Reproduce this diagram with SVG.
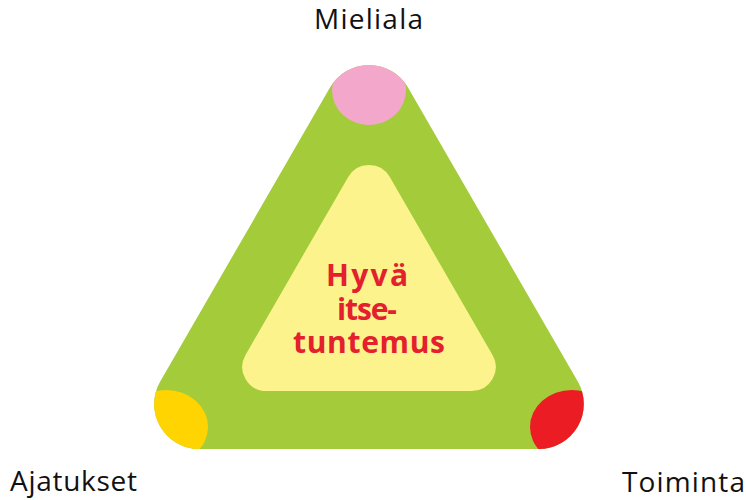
<svg xmlns="http://www.w3.org/2000/svg" width="746" height="500" viewBox="0 0 746 500">
  <style>
    .label { font-family: "Open Sans", Lato, "DejaVu Sans", sans-serif; font-size: 28px; fill: #111111; }
    .center { font-family: "Open Sans", Lato, "DejaVu Sans", sans-serif; font-size: 30px; font-weight: bold; fill: #e4202e; text-anchor: middle; }
  </style>
  <defs>
    <clipPath id="outerClip">
      <path d="M330,87.5 A45,45 0 0 1 408,87.5 L577.8,381.5 A45,45 0 0 1 538.8,449 L199.2,449 A45,45 0 0 1 160.2,381.5 Z"/>
    </clipPath>
  </defs>
  <rect width="746" height="500" fill="#ffffff"/>
  <g id="triangle">
    <path d="M330,87.5 A45,45 0 0 1 408,87.5 L577.8,381.5 A45,45 0 0 1 538.8,449 L199.2,449 A45,45 0 0 1 160.2,381.5 Z" fill="#a4cc3a"/>
  </g>
  <g id="center">
    <path d="M348.2,177 A24,24 0 0 1 389.8,177 L492.5,355 A24,24 0 0 1 471.7,391 L266.3,391 A24,24 0 0 1 245.5,355 Z" fill="#fcf38c"/>
    <text class="center" x="367" y="286" textLength="82">Hyvä</text>
    <text class="center" x="367" y="320" textLength="60">itse-</text>
    <text class="center" x="369" y="353" textLength="152">tuntemus</text>
  </g>
  <g id="mieliala">
    <ellipse cx="369" cy="90" rx="37" ry="35" fill="#f3a8cb" clip-path="url(#outerClip)"/>
    <text class="label" x="368.5" y="29" text-anchor="middle" textLength="109">Mieliala</text>
  </g>
  <g id="ajatukset">
    <ellipse cx="166" cy="427" rx="42" ry="37" fill="#ffd400" clip-path="url(#outerClip)"/>
    <text class="label" x="10" y="491" textLength="127">Ajatukset</text>
  </g>
  <g id="toiminta">
    <ellipse cx="572" cy="427" rx="42" ry="37" fill="#ec1c24" clip-path="url(#outerClip)"/>
    <text class="label" x="622" y="492" textLength="123">Toiminta</text>
  </g>
  <g id="connectors"/>
</svg>
